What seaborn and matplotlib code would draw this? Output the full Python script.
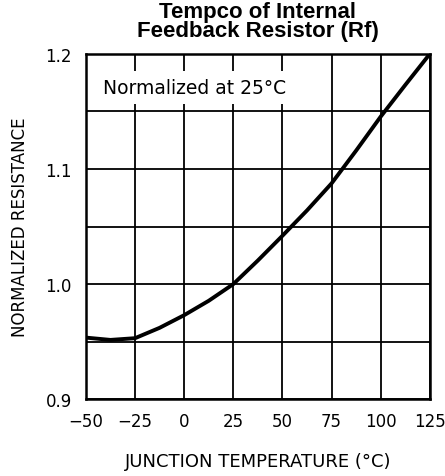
import numpy as np
import pandas as pd
import seaborn as sns
import matplotlib.pyplot as plt

# values
temperature = [-50, -37.5, -25, -12.5, 0, 12.5, 25, 37.5, 50, 62.5, 75, 87.5, 100, 112.5, 125]
resistance = [0.9535, 0.9515, 0.953, 0.962, 0.973, 0.9855, 1.0, 1.0205, 1.042, 1.064,
              1.0875, 1.116, 1.1455, 1.173, 1.2]

x_ticks = [-50, -25, 0, 25, 50, 75, 100, 125]
y_ticks = [0.9, 1.0, 1.1, 1.2]
y_grid = [0.9, 0.95, 1.0, 1.05, 1.1, 1.15, 1.2]


def plot_tempco():
    sns.set_style("white")
    plt.rcParams['font.family'] = ['DejaVu Sans']
    plt.rcParams['text.color'] = 'black'
    plt.rcParams['axes.labelcolor'] = 'black'
    plt.rcParams['xtick.color'] = 'black'
    plt.rcParams['ytick.color'] = 'black'

    df = pd.DataFrame({'Temp': temperature, 'Rn': resistance})

    fig = plt.figure(figsize=(4.45, 4.77), dpi=100)
    ax = fig.add_axes([0.193, 0.161, 0.773, 0.724])

    # grid
    for x in x_ticks:
        ax.axvline(x, color='black', lw=1.3, zorder=1)
    for y in y_grid:
        ax.axhline(y, color='black', lw=1.3, zorder=1)

    sns.lineplot(data=df, x='Temp', y='Rn', color='black', lw=2.8, ax=ax, zorder=4)

    ax.set_xlim(-50, 125)
    ax.set_ylim(0.9, 1.2)
    ax.set_xticks(x_ticks)
    ax.set_xticklabels([str(v).replace('-', '\u2212') for v in x_ticks])
    ax.set_yticks(y_ticks)
    ax.set_yticklabels(['0.9', '1.0', '1.1', '1.2'])
    ax.tick_params(length=0, labelsize=12, pad=9)
    ax.tick_params(axis='y', pad=10)

    for s in ax.spines.values():
        s.set_color('black')
        s.set_linewidth(1.8)
        s.set_zorder(5)

    ax.text(-41.3, 1.171, 'Normalized at 25\u00b0C', fontsize=13.5, va='center', ha='left',
            bbox=dict(facecolor='white', edgecolor='none', pad=5), zorder=3)

    ax.set_xlabel('JUNCTION TEMPERATURE (\u00b0C)', fontsize=13, labelpad=16)
    ax.set_ylabel('NORMALIZED RESISTANCE', fontsize=12, labelpad=12)
    ax.set_title('Tempco of Internal\nFeedback Resistor (Rf)', fontsize=16,
                 fontweight='bold', family='Liberation Sans', linespacing=0.88, pad=13)

    fig.savefig('out.png', dpi=100)


if __name__ == "__main__":
    plot_tempco()
